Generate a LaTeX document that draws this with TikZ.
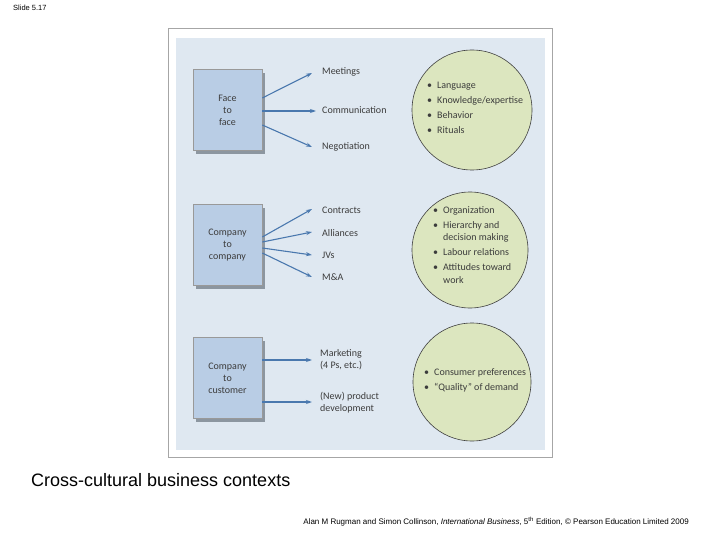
\documentclass[tikz,border=0pt]{standalone}
\usepackage{fontspec}
\setmainfont{Liberation Sans}
\newfontfamily\dfont{Carlito}
\usetikzlibrary{arrows.meta}
\definecolor{panel}{HTML}{DFE8F1}
\definecolor{boxfill}{HTML}{B9CDE5}
\definecolor{boxshadow}{HTML}{8C96A0}
\definecolor{arrowc}{HTML}{4A78AE}
\definecolor{circfill}{HTML}{DCE6BF}
\definecolor{txt}{HTML}{3C3C3C}
\tikzset{
  ctxbox/.style={draw=gray!80, fill=boxfill, line width=0.6pt, minimum width=69pt, minimum height=81pt, align=center, font=\dfont\fontsize{10}{12}\selectfont, text=txt},
  conn/.style={draw=arrowc, line width=1.1pt, -{Stealth[length=6pt,width=4pt]}},
  lbl/.style={anchor=west, align=left, font=\dfont\fontsize{10}{12}\selectfont, text=txt, inner sep=0pt},
  ctxcirc/.style={circle, draw=black!75, fill=circfill, line width=0.6pt},
  blt/.style={anchor=west, align=left, font=\dfont\fontsize{10}{12.5}\selectfont, text=txt, inner sep=0pt}
}
\newcommand{\bl}{\makebox[10pt][l]{\textbullet}}
\newcommand{\nb}{\makebox[10pt][l]{}}
\begin{document}
\begin{tikzpicture}[x=1pt,y=-1pt]
\useasboundingbox (0,0) rectangle (720,540);
\fill[white] (0,0) rectangle (720,540);
\node[anchor=west, font=\fontsize{7.5}{8}\selectfont, inner sep=0pt] (slide) at (13,8) {Slide 5.17};
% frame and panel
\draw[gray!70, line width=0.8pt] (168,28) rectangle (552,457);
\fill[panel] (176,38) rectangle (545,450);
% boxes with shadows
\fill[boxshadow] (196,73) rectangle (265,154);
\node[ctxbox] (b1) at (227.5,110) {Face\\to\\face};
\fill[boxshadow] (196,208) rectangle (265,289);
\node[ctxbox] (b2) at (227.5,245) {Company\\to\\company};
\fill[boxshadow] (196,341) rectangle (265,422);
\node[ctxbox] (b3) at (227.5,378) {Company\\to\\customer};
% labels
\node[lbl] (m1) at (322,72) {Meetings};
\node[lbl] (m2) at (322,110) {Communication};
\node[lbl] (m3) at (322,147) {Negotiation};
\node[lbl] (c1) at (322,210) {Contracts};
\node[lbl] (c2) at (322,233) {Alliances};
\node[lbl] (c3) at (322,255) {JVs};
\node[lbl] (c4) at (322,277) {M\&A};
\node[lbl] (k1) at (320,360) {Marketing\\(4 Ps, etc.)};
\node[lbl] (k2) at (320,403) {(New) product\\development};
% arrow targets
\coordinate (t1) at (312,73);
\coordinate (t2) at (316,111);
\coordinate (t3) at (312,147);
\coordinate (u1) at (312,209);
\coordinate (u2) at (312,232);
\coordinate (u3) at (312,255);
\coordinate (u4) at (312,277);
\coordinate (v1) at (312,360);
\coordinate (v2) at (312,402);
\draw[conn] ([yshift=12pt]b1.east) -- (t1);
\draw[conn, line width=1.6pt] ([yshift=-1pt]b1.east) -- (t2);
\draw[conn] ([yshift=-15pt]b1.east) -- (t3);
\draw[conn] ([yshift=8pt]b2.east) -- (u1);
\draw[conn] ([yshift=3pt]b2.east) -- (u2);
\draw[conn] ([yshift=-3pt]b2.east) -- (u3);
\draw[conn] ([yshift=-8pt]b2.east) -- (u4);
\draw[conn] (b3.east |- v1) -- (v1);
\draw[conn] (b3.east |- v2) -- (v2);
% circles
\node[ctxcirc, minimum size=120pt] (o1) at (472,110) {};
\node[ctxcirc, minimum size=116pt] (o2) at (470,250) {};
\node[ctxcirc, minimum size=118pt] (o3) at (472,382) {};
\node[blt] (l1) at (427,108) {\bl Language\\[2.5pt]
\bl Knowledge/expertise\\[2.5pt]
\bl Behavior\\[2.5pt]
\bl Rituals};
\node[blt] (l2) at (433,245) {\bl Organization\\[2.5pt]
\bl Hierarchy and\\
\nb decision making\\[2.5pt]
\bl Labour relations\\[2.5pt]
\bl Attitudes toward\\
\nb work};
\node[blt] (l3) at (424,380) {\bl Consumer preferences\\[2.5pt]
\bl “Quality” of demand};
% title and footer
\node[anchor=west, font=\fontsize{18}{20}\selectfont, inner sep=0pt] (title) at (31,480) {Cross-cultural business contexts};
\node[anchor=east, font=\fontsize{8}{9}\selectfont, inner sep=0pt] (foot) at (689,522) {Alan M Rugman and Simon Collinson, \textit{International Business}, 5\textsuperscript{th} Edition, \textcopyright\ Pearson Education Limited 2009};
\end{tikzpicture}
\end{document}
